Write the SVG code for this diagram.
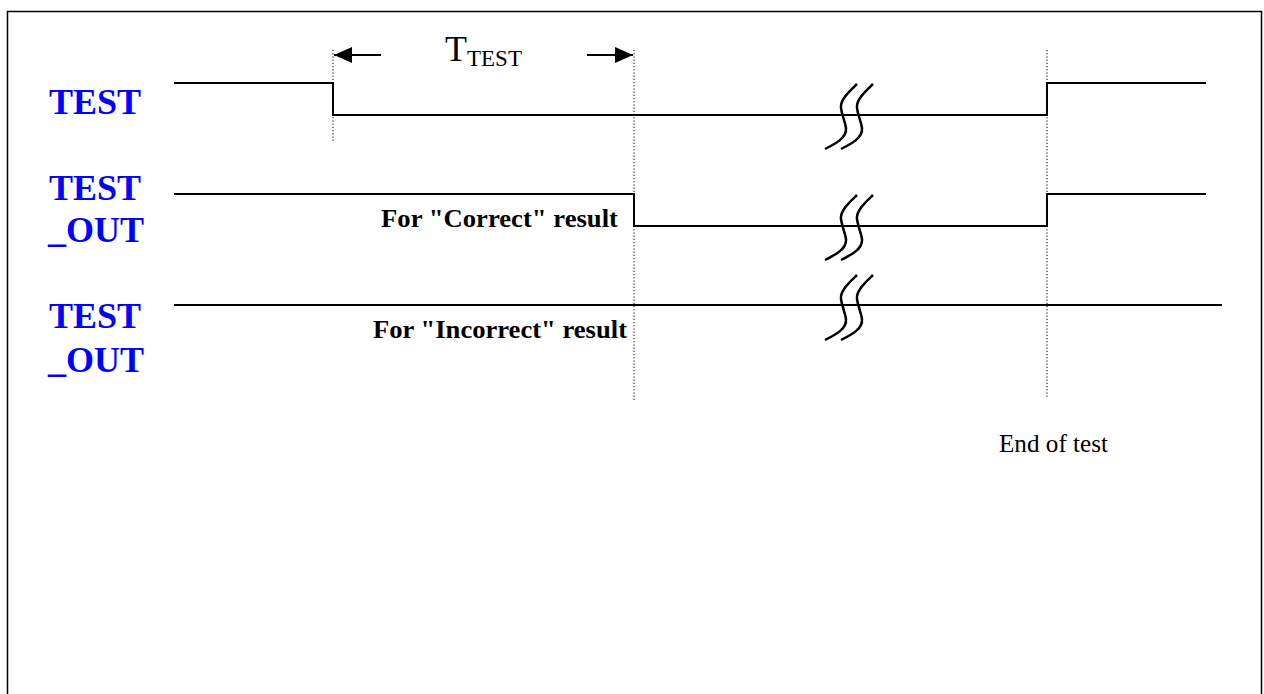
<svg xmlns="http://www.w3.org/2000/svg" width="1264" height="694" viewBox="0 0 1264 694">
<style>
.sig{fill:none;stroke:#000;stroke-width:2}
.dot{fill:none;stroke:#000;stroke-width:1;stroke-dasharray:1.2 2}
.lbl{font-family:"Liberation Serif","Times New Roman",serif;font-weight:bold;font-size:36px;fill:#0000ff}
.note{font-family:"Liberation Serif","Times New Roman",serif;font-weight:bold;font-size:25px;fill:#000}
.reg{font-family:"Liberation Serif","Times New Roman",serif;fill:#000}
.sq{fill:none;stroke:#000;stroke-width:2.5}
</style>
<defs>
<marker id="ah" viewBox="0 0 18 16" refX="18" refY="8" markerWidth="18" markerHeight="16" markerUnits="userSpaceOnUse" orient="auto">
<path d="M0,0 L18,8 L0,16 Z" fill="#000"/>
</marker>
<g id="squig">
<path class="sq" d="M857,-32 C848,-23 840,-16 841,-8 C842,0 845,5 846,12 C847,22 835,28 825,33"/>
<path class="sq" d="M873,-32 C864,-23 856,-16 857,-8 C858,0 861,5 862,12 C863,22 851,28 841,33"/>
</g>
</defs>
<rect x="7.5" y="11.5" width="1254" height="720" fill="#fff" stroke="#000" stroke-width="1.5"/>
<g id="labels">
<text class="lbl" x="49" y="114">TEST</text>
<text class="lbl" x="49" y="200">TEST</text>
<text class="lbl" x="48" y="242">_OUT</text>
<text class="lbl" x="49" y="328">TEST</text>
<text class="lbl" x="48" y="372">_OUT</text>
</g>
<g id="connectors">
<path class="sig" d="M174,83 H333 V115 H1047 V83 H1206"/>
<path class="sig" d="M174,194 H634 V226 H1047 V194 H1206"/>
<path class="sig" d="M174,305 H1222"/>
<path class="dot" d="M333,50 V143"/>
<path class="dot" d="M634,50 V400"/>
<path class="dot" d="M1047,50 V398"/>
<path d="M381,55 H334" stroke="#000" stroke-width="2" marker-end="url(#ah)"/>
<path d="M587,55 H633" stroke="#000" stroke-width="2" marker-end="url(#ah)"/>
<use href="#squig" transform="translate(0,116)"/>
<use href="#squig" transform="translate(0,227)"/>
<use href="#squig" transform="translate(0,307)"/>
</g>
<g id="texts">
<text class="reg" x="445" y="61" font-size="36">T<tspan font-size="23" dy="5">TEST</tspan></text>
<text class="note" x="381" y="227" textLength="237" lengthAdjust="spacingAndGlyphs">For "Correct" result</text>
<text class="note" x="373" y="338" textLength="254" lengthAdjust="spacingAndGlyphs">For "Incorrect" result</text>
<text class="reg" x="999" y="452" font-size="25" textLength="109" lengthAdjust="spacingAndGlyphs">End of test</text>
</g>
</svg>
